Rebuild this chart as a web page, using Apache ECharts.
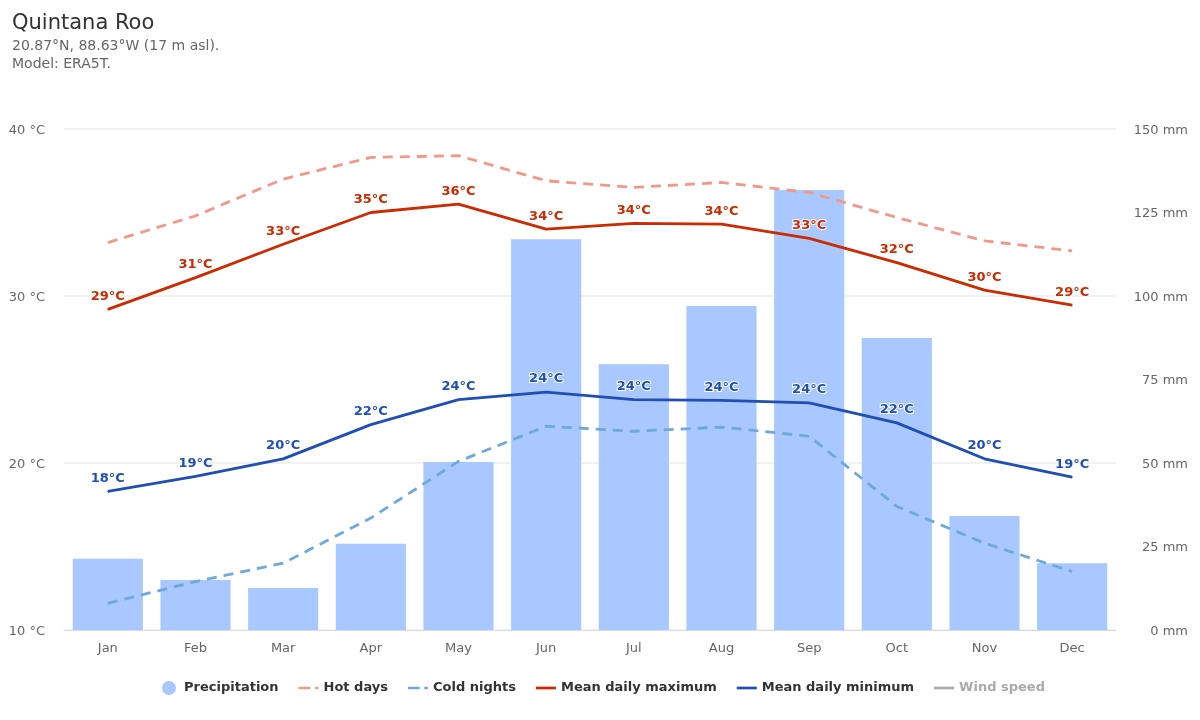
<!DOCTYPE html>
<html><head><meta charset="utf-8">
<style>html,body{margin:0;padding:0;background:#fff}#c{width:1200px;height:720px}</style>
<script src="https://cdn.jsdelivr.net/npm/echarts@6/dist/echarts.min.js"></script></head>
<body><div id="c"></div>
<script>
const months=['Jan','Feb','Mar','Apr','May','Jun','Jul','Aug','Sep','Oct','Nov','Dec'];
const precipitation=[21.3,15,12.6,25.8,50.3,117,79.6,97,131.7,87.4,34.1,20];
const hotDays=[33.2,34.8,37,38.3,38.4,36.9,36.5,36.8,36.2,34.7,33.3,32.7];
const coldNights=[11.6,12.9,14,16.7,20.1,22.2,21.9,22.15,21.6,17.4,15.2,13.5];
const meanMax=[29.2,31.1,33.1,35,35.5,34,34.35,34.3,33.45,32,30.35,29.45];
const meanMin=[18.3,19.2,20.25,22.3,23.8,24.25,23.8,23.75,23.6,22.4,20.25,19.15];
const windSpeed=[];
const F='"DejaVu Sans",sans-serif';
const solidIcon='path://M0 0h22v3H0z';
const dashIcon='path://M0 0h13v3H0zM18 0h4v3h-4z';
const lab=(color)=>({show:true,position:'top',distance:6,formatter:p=>Math.round(p.value)+'°C',
  fontFamily:F,fontSize:13,fontWeight:'bold',color,textBorderColor:'#fff',textBorderWidth:2});
const sym={symbol:'circle',symbolSize:1,showSymbol:true};
const tickRich={t:{fontFamily:F,fontSize:13,color:'#666',padding:[3,0,0,0]}};
const chart=echarts.init(document.getElementById('c'),null,{renderer:'canvas'});
chart.setOption({
  animation:false,
  backgroundColor:'#fff',
  title:[
    {text:'Quintana Roo',left:12,top:13,padding:0,textStyle:{fontFamily:F,fontSize:21,fontWeight:'normal',color:'#333'}},
    {text:'20.87°N, 88.63°W (17 m asl).\nModel: ERA5T.',left:12,top:37,padding:0,textStyle:{fontFamily:F,fontSize:14,fontWeight:'normal',color:'#666',lineHeight:18}}
  ],
  legend:{
    bottom:20,left:157,itemGap:20,itemWidth:20,itemHeight:14,
    textStyle:{fontFamily:F,fontSize:13,fontWeight:'bold',color:'#333'},
    inactiveColor:'#aaa',
    lineStyle:{opacity:0},
    selected:{'Wind speed':false},
    data:[
      {name:'Precipitation',icon:'circle'},
      {name:'Hot days',icon:dashIcon},{name:'Cold nights',icon:dashIcon},
      {name:'Mean daily maximum',icon:solidIcon},{name:'Mean daily minimum',icon:solidIcon},{name:'Wind speed',icon:solidIcon}
    ]
  },
  grid:{left:64,right:84,top:129,bottom:90,containLabel:false},
  xAxis:{type:'category',data:months,
    axisLine:{lineStyle:{color:'#d8dce6'}},axisTick:{show:false},
    axisLabel:{fontFamily:F,fontSize:13,color:'#666',margin:12},splitLine:{show:false}},
  yAxis:[
    {type:'value',min:10,max:40,interval:10,
      axisLabel:{formatter:'{t|{value} °C}',rich:tickRich,margin:19},
      axisLine:{show:false},axisTick:{show:false},splitLine:{lineStyle:{color:'#ececec',width:1.5}}},
    {type:'value',min:0,max:150,interval:25,position:'right',
      axisLabel:{formatter:'{t|{value} mm}',rich:tickRich,margin:72,align:'right'},
      axisLine:{show:false},axisTick:{show:false},splitLine:{show:false}}
  ],
  series:[
    {name:'Precipitation',type:'bar',yAxisIndex:1,data:precipitation,barWidth:'80%',itemStyle:{color:'#a8c8ff'},z:1},
    {name:'Hot days',type:'line',data:hotDays,symbol:'none',lineStyle:{color:'#f0998a',width:2.8,type:[10,7]},itemStyle:{color:'#f0998a'},z:2},
    {name:'Cold nights',type:'line',data:coldNights,symbol:'none',lineStyle:{color:'#6fa8dc',width:2.8,type:[10,7]},itemStyle:{color:'#6fa8dc'},z:2},
    {name:'Mean daily maximum',type:'line',data:meanMax,...sym,lineStyle:{color:'#cc2a00',width:2.8},itemStyle:{color:'#cc2a00'},label:lab('#cc2a00'),z:3},
    {name:'Mean daily minimum',type:'line',data:meanMin,...sym,lineStyle:{color:'#1f4fb4',width:2.8},itemStyle:{color:'#1f4fb4'},label:lab('#1f4fb4'),z:3},
    {name:'Wind speed',type:'line',data:windSpeed,symbol:'none',lineStyle:{color:'#999',width:2.8},itemStyle:{color:'#999'}}
  ]
});
</script></body></html>
